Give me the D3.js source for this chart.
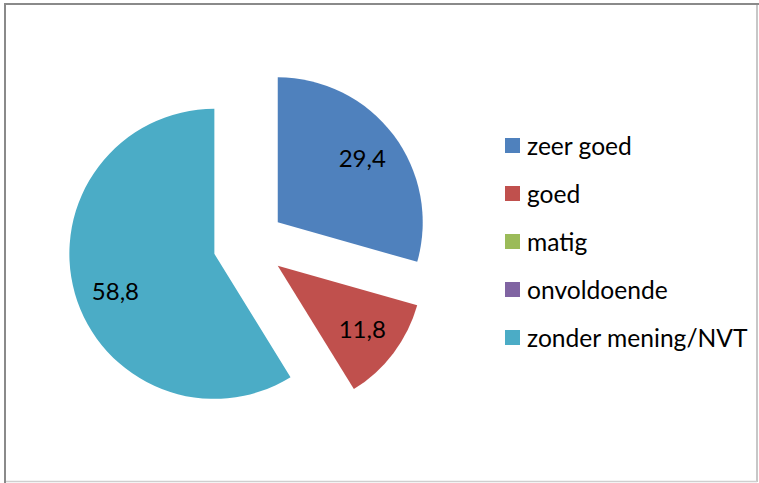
<!DOCTYPE html>
<html>
<head>
<meta charset="utf-8">
<script src="https://cdn.jsdelivr.net/npm/d3@7"></script>
<style>
  body { margin: 0; background: #fff; }
  text { font-family: Lato, "Noto Sans", sans-serif; }
</style>
</head>
<body>
<div id="pie-chart"></div>
<script>
// chart data
var categories = ["zeer goed", "goed", "matig", "onvoldoende", "zonder mening/NVT"];
var values = [29.4, 11.8, 0, 0, 58.8];
var labels = ["29,4", "11,8", "0", "0", "58,8"];
var colors = ["#4f81bd", "#c0504d", "#9bbb59", "#8064a2", "#4bacc6"];

var width = 759, height = 483;

var svg = d3.select("#pie-chart").append("svg")
    .attr("width", width)
    .attr("height", height);

// chart frame, darker on top/left like the screenshot
svg.append("line").attr("x1", 4).attr("x2", 759).attr("y1", 4).attr("y2", 4)
    .attr("stroke", "#8a8a8a").attr("stroke-width", 2);
svg.append("line").attr("x1", 5).attr("x2", 5).attr("y1", 3).attr("y2", 483)
    .attr("stroke", "#8a8a8a").attr("stroke-width", 2);
svg.append("line").attr("x1", 757).attr("x2", 757).attr("y1", 5).attr("y2", 482)
    .attr("stroke", "#b4b4b4").attr("stroke-width", 1.5);
svg.append("line").attr("x1", 6).attr("x2", 757).attr("y1", 481.5).attr("y2", 481.5)
    .attr("stroke", "#cfcfcf").attr("stroke-width", 1.5);

// pie geometry
var cx = 249, cy = 244;
var radius = 145;
var explode = 36;

var data = categories.map(function(c, i) {
    return {name: c, value: values[i], label: labels[i], color: colors[i]};
});

var pie = d3.pie()
    .sort(null)
    .value(function(d) { return d.value; });

var arc = d3.arc().innerRadius(0).outerRadius(radius);
var labelR = 106;

var slices = pie(data).filter(function(d) { return d.value > 0; });

var chart = svg.append("g")
    .attr("transform", "translate(" + cx + "," + cy + ")");

// each slice pushed out along its bisector
var sliceG = chart.selectAll("g.slice")
    .data(slices)
    .enter()
    .append("g")
    .classed("slice", true)
    .attr("transform", function(d) {
        var mid = (d.startAngle + d.endAngle) / 2;
        return "translate(" + (explode * Math.sin(mid)) + "," + (-explode * Math.cos(mid)) + ")";
    });

sliceG.append("path")
    .attr("d", arc)
    .attr("fill", function(d) { return d.data.color; });

// excel nudges the big slice label a little towards its left-middle
sliceG.append("text")
    .attr("transform", function(d) {
        var mid = (d.startAngle + d.endAngle) / 2;
        if (mid > Math.PI) mid -= 0.09;
        return "translate(" + (labelR * Math.sin(mid)) + "," + (-labelR * Math.cos(mid)) + ")";
    })
    .attr("text-anchor", "middle")
    .attr("dy", "0.36em")
    .attr("font-size", 24)
    .attr("fill", "#000")
    .text(function(d) { return d.data.label; });

// legend
var legend = svg.append("g")
    .attr("transform", "translate(505,146)");

var item = legend.selectAll("g.item")
    .data(data)
    .enter()
    .append("g")
    .classed("item", true)
    .attr("transform", function(d, i) { return "translate(0," + (i * 48) + ")"; });

item.append("rect")
    .attr("x", 0)
    .attr("y", -8)
    .attr("width", 15)
    .attr("height", 15)
    .attr("fill", function(d) { return d.color; });

item.append("text")
    .attr("x", 22)
    .attr("y", 9)
    .attr("font-size", 24.6)
    .attr("fill", "#000")
    .text(function(d) { return d.name; });
</script>
</body>
</html>
